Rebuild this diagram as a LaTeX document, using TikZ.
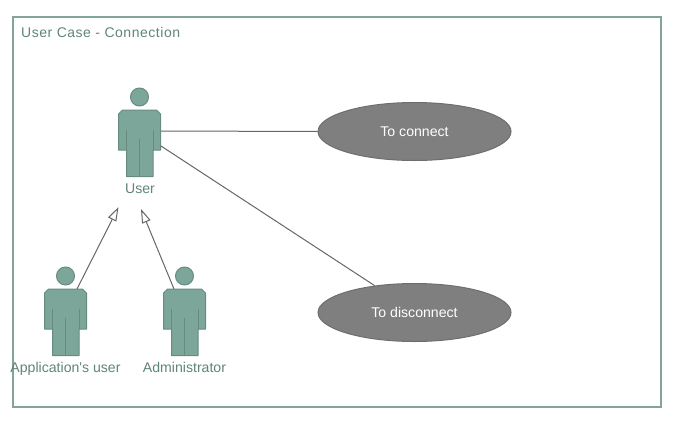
\documentclass[tikz,border=0pt]{standalone}
\usepackage{fontspec}
\setmainfont{Liberation Sans}
\newfontfamily\titlefont[LetterSpace=3.8]{Liberation Sans}
\newfontfamily\aposfont[Ligatures=NoCommon]{Liberation Sans}
\usetikzlibrary{shapes.geometric,arrows.meta}
\definecolor{actfill}{HTML}{7DA69A}
\definecolor{actline}{HTML}{668C80}
\definecolor{framec}{HTML}{84A49B}
\definecolor{labelc}{HTML}{5F8577}
\definecolor{ufill}{HTML}{7F7F7F}
\definecolor{uline}{HTML}{6E6E6E}
\definecolor{conn}{HTML}{666666}
\tikzset{
  x=1pt,y=-1pt,
  actorpart/.style={draw=actline,fill=actfill,line width=1pt,line join=round},
  actorline/.style={draw=actline,line width=1pt},
  actorlabel/.style={text=labelc,font=\fontsize{14.1}{16}\selectfont,inner sep=0pt,anchor=base},
  usecase/.style={ellipse,draw=uline,fill=ufill,line width=1pt,minimum width=193pt,minimum height=58pt,inner sep=0pt},
  uctext/.style={text=white,font=\fontsize{14.1}{16}\selectfont,inner sep=0pt,anchor=base},
  assoc/.style={draw=conn,line width=1pt},
  general/.style={draw=conn,line width=1pt,-{Triangle[open,length=14pt,width=9pt,fill=white]}},
  actor/.pic={
    \path[actorpart] (-17,13) -- (17,13) -- (21,17) -- (21,53) -- (13.5,53) -- (13.5,79.5) -- (-13,79.5) -- (-13,53) -- (-21,53) -- (-21,17) -- cycle;
    \path[actorpart] (0,0) circle (9);
    \draw[actorline] (-13,33) -- (-13,53) (13.5,33) -- (13.5,53) (0,42) -- (0,79.5);
  }
}
\begin{document}
\begin{tikzpicture}
\useasboundingbox (0,0) rectangle (676,423);
\node[draw=framec,line width=1.5pt,minimum width=648pt,minimum height=390pt,inner sep=0pt] (frame) at (337,212) {};
\node[anchor=base west,text=labelc,font=\fontsize{14}{16}\selectfont\titlefont,inner sep=0pt] (title) at (21,37.5) {User Case - Connection};
\pic at (139.5,97) {actor};
\pic at (65.5,276) {actor};
\pic at (184.5,276) {actor};
\node[actorlabel] (userlabel) at (140,193.5) {User};
\node[actorlabel] (applabel) at (65.5,372.5) {\aposfont Application's user};
\node[actorlabel] (adminlabel) at (184.5,372.5) {Administrator};
\node[usecase] (connect) at (414.5,131.5) {};
\node[usecase] (disconnect) at (414.5,312.5) {};
\node[uctext] (connecttext) at (414.5,136) {To connect};
\node[uctext] (disconnecttext) at (414.5,317) {To disconnect};
\coordinate (userA) at (161,131);
\coordinate (userB) at (161,146);
\coordinate (appTop) at (77,289);
\coordinate (adminTop) at (174,289);
\coordinate (tipApp) at (118.5,207);
\coordinate (tipAdmin) at (141,209);
\draw[assoc] (userA) -- (connect.west);
\draw[assoc] (userB) -- (disconnect.146);
\draw[general] (appTop) -- (tipApp);
\draw[general] (adminTop) -- (tipAdmin);
\end{tikzpicture}
\end{document}
